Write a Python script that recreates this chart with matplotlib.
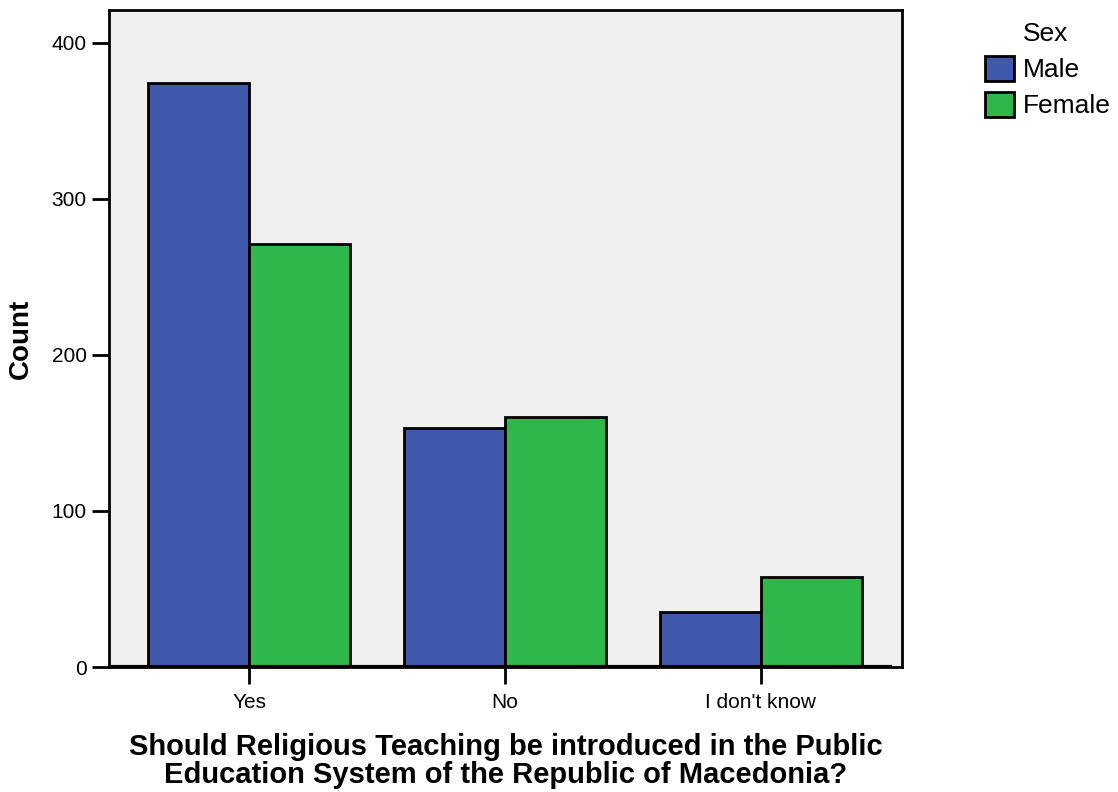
import matplotlib
matplotlib.use("Agg")
import matplotlib.pyplot as plt
from matplotlib.patches import Patch
import numpy as np

categories = ["Yes", "No", "I don't know"]
series_names = ["Male", "Female"]
male = [374, 153, 35]
female = [271, 160, 58]
colors = ["#3e58ac", "#2eb84a"]

plt.rcParams['font.family'] = ['Liberation Sans', 'DejaVu Sans']

fig = plt.figure(figsize=(11.18, 7.92), dpi=100)
ax = fig.add_axes([0.0975, 0.1578, 0.8068 - 0.0975, 0.9874 - 0.1578])
ax.set_facecolor("#f0f0f0")

x = np.arange(len(categories))
w = 0.395
ax.bar(x - w / 2, male, w, color=colors[0], edgecolor="black", linewidth=2, zorder=3)
ax.bar(x + w / 2, female, w, color=colors[1], edgecolor="black", linewidth=2, zorder=3)

ax.set_xlim(-0.547, 2.551)
ax.set_ylim(0, 421)
ax.set_yticks([0, 100, 200, 300, 400])
ax.set_xticks(x)
ax.set_xticklabels(categories)
ax.tick_params(axis='y', direction='out', length=12, width=2, labelsize=15, pad=4)
ax.tick_params(axis='x', direction='out', length=12, width=2, labelsize=15, pad=7)
for s in ax.spines.values():
    s.set_linewidth(2)
ax.axhline(0, color="black", linewidth=3, zorder=4, xmin=0.0, xmax=0.985)

ax.set_ylabel("Count", fontsize=20, fontweight='bold', labelpad=13)
ax.set_xlabel("Should Religious Teaching be introduced in the Public\nEducation System of the Republic of Macedonia?",
              fontsize=21, fontweight='bold', labelpad=15, linespacing=1.0)

handles = [Patch(facecolor=colors[0], edgecolor="black", linewidth=2),
           Patch(facecolor=colors[1], edgecolor="black", linewidth=2)]
leg = fig.legend(handles, series_names, title="Sex", loc="upper left",
                 bbox_to_anchor=(0.872, 0.985), frameon=False, fontsize=19,
                 title_fontsize=19, handlelength=1.1, handleheight=1.1,
                 handletextpad=0.3, labelspacing=0.35, borderaxespad=0)
leg._legend_box.align = "left"
leg.get_title().set_position((37, 0))

fig.savefig("out.png", dpi=100)
